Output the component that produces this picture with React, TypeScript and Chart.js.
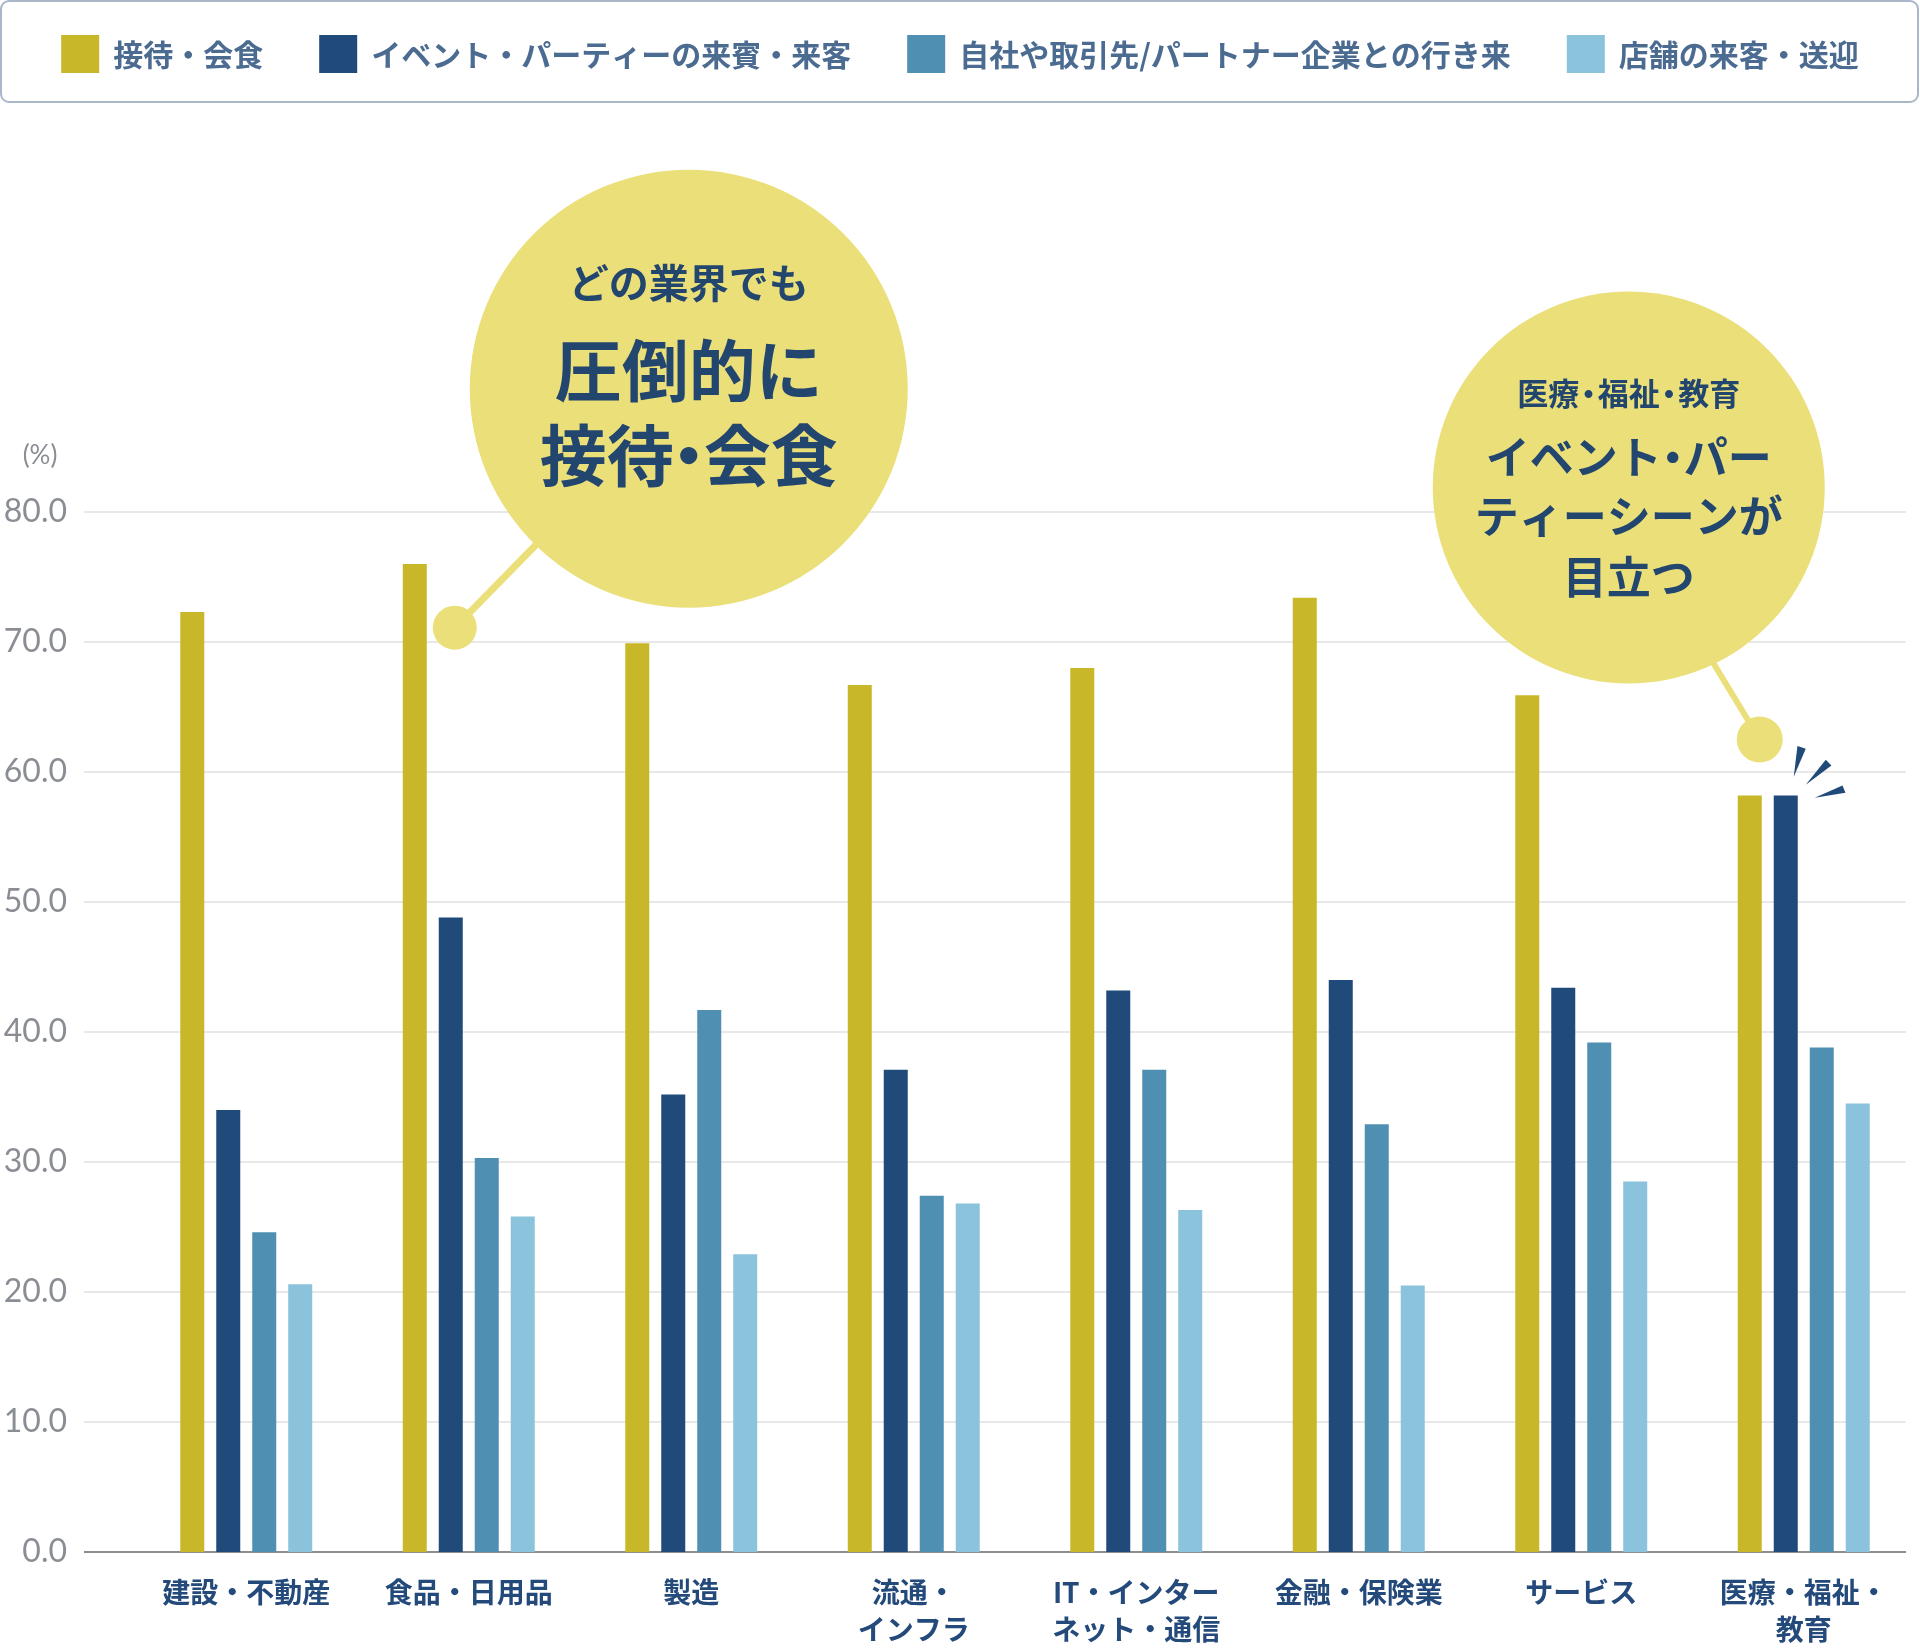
import React, { useEffect, useRef } from "react";
import { Chart, registerables } from "chart.js";

Chart.register(...registerables);

const categories: (string | string[])[] = [
  "建設・不動産",
  "食品・日用品",
  "製造",
  ["流通・", "インフラ"],
  ["IT・インター", "ネット・通信"],
  "金融・保険業",
  "サービス",
  ["医療・福祉・", "教育"],
];

const seriesLabels = [
  "接待・会食",
  "イベント・パーティーの来賓・来客",
  "自社や取引先/パートナー企業との行き来",
  "店舗の来客・送迎",
];

const entertainment = [72.3, 76.0, 69.9, 66.7, 68.0, 73.4, 65.9, 58.2];
const events = [34.0, 48.8, 35.2, 37.1, 43.2, 44.0, 43.4, 58.2];
const partners = [24.6, 30.3, 41.7, 27.4, 37.1, 32.9, 39.2, 38.8];
const stores = [20.6, 25.8, 22.9, 26.8, 26.3, 20.5, 28.5, 34.5];

const seriesColors = ["#c8b729", "#204a7a", "#4f90b2", "#8bc2dc"];

const yMin = 0;
const yMax = 80;
const yStep = 10;

const callout1Lines = ["どの業界でも", "圧倒的に", "接待・会食"];
const callout2Lines = ["医療・福祉・教育", "イベント・パー", "ティーシーンが", "目立つ"];

const JP = '"Noto Sans CJK JP", "Noto Sans", sans-serif';
const NAVY_TEXT = "#23466f";
const BUBBLE = "#ebdf7a";

// draws text centred at cx with a narrower advance for the middle dot
function drawTight(ctx: CanvasRenderingContext2D, text: string, cx: number, cy: number, size: number, dotRatio = 0.5) {
  const chars = Array.from(text);
  const widths = chars.map((ch) => (ch === "・" ? size * dotRatio : ctx.measureText(ch).width));
  const total = widths.reduce((a, b) => a + b, 0);
  let x = cx - total / 2;
  ctx.textAlign = "center";
  chars.forEach((ch, i) => {
    ctx.fillText(ch, x + widths[i] / 2, cy);
    x += widths[i];
  });
}

const gridPlugin = {
  id: "customGrid",
  beforeDatasetsDraw(chart: any) {
    const { ctx, chartArea } = chart;
    const y = chart.scales.y;
    const left = chartArea.left - 51;
    const right = chartArea.right - 9;
    ctx.save();
    y.ticks.forEach((t: any) => {
      const py = Math.round(y.getPixelForValue(t.value));
      ctx.beginPath();
      ctx.strokeStyle = t.value === 0 ? "#8d8d8d" : "#e8e8e8";
      ctx.lineWidth = 2;
      ctx.moveTo(left, py);
      ctx.lineTo(right, py);
      ctx.stroke();
    });
    ctx.fillStyle = "#8a8e94";
    ctx.font = '400 26px "Lato", sans-serif';
    ctx.textAlign = "center";
    ctx.textBaseline = "middle";
    ctx.fillText("(%)", 40, y.getPixelForValue(yMax) - 56);
    ctx.restore();
  },
};

const legendPlugin = {
  id: "customLegend",
  afterDraw(chart: any) {
    const { ctx } = chart;
    ctx.save();
    ctx.strokeStyle = "#a9b7c8";
    ctx.lineWidth = 2;
    ctx.beginPath();
    (ctx as any).roundRect(1, 1, chart.width - 3, 101, 8);
    ctx.stroke();
    ctx.font = `bold 30px ${JP}`;
    ctx.textBaseline = "middle";
    ctx.textAlign = "left";
    const ds = chart.data.datasets;
    const box = 38;
    const gap = 14;
    const spacing = 56;
    const widths = ds.map((d: any) => ctx.measureText(d.label).width);
    const total =
      widths.reduce((a: number, w: number) => a + box + gap + w, 0) + spacing * (ds.length - 1);
    let x = chart.width / 2 - total / 2;
    const cy = 54;
    ds.forEach((d: any, i: number) => {
      ctx.fillStyle = d.backgroundColor;
      ctx.fillRect(x, cy - box / 2, box, box);
      ctx.fillStyle = "#4b6b91";
      ctx.fillText(d.label, x + box + gap, cy + 1);
      x += box + gap + widths[i] + spacing;
    });
    ctx.restore();
  },
};

const calloutPlugin = {
  id: "callouts",
  afterDatasetsDraw(chart: any) {
    const { ctx } = chart;
    const xs = chart.scales.x;
    const ys = chart.scales.y;
    ctx.save();

    // Callout 1
    const d1x = xs.getPixelForValue(1) - 14;
    const d1y = ys.getPixelForValue(71.1);
    const c1x = d1x + 234;
    const c1y = d1y - 239;
    ctx.fillStyle = BUBBLE;
    ctx.strokeStyle = BUBBLE;
    ctx.lineWidth = 7;
    ctx.beginPath();
    ctx.moveTo(d1x, d1y);
    ctx.lineTo(c1x, c1y);
    ctx.stroke();
    ctx.beginPath();
    ctx.arc(d1x, d1y, 22, 0, Math.PI * 2);
    ctx.fill();
    ctx.beginPath();
    ctx.arc(c1x, c1y, 219, 0, Math.PI * 2);
    ctx.fill();

    ctx.fillStyle = NAVY_TEXT;
    ctx.textBaseline = "middle";
    ctx.font = `bold 40px ${JP}`;
    drawTight(ctx, callout1Lines[0], c1x, c1y - 106, 40);
    ctx.font = `bold 67px ${JP}`;
    drawTight(ctx, callout1Lines[1], c1x, c1y - 18, 67);
    drawTight(ctx, callout1Lines[2], c1x, c1y + 67, 67, 0.45);

    // Callout 2
    const d2x = xs.getPixelForValue(7) - 44;
    const d2y = ys.getPixelForValue(62.5);
    const c2x = d2x - 131;
    const c2y = d2y - 252;
    ctx.fillStyle = BUBBLE;
    ctx.strokeStyle = BUBBLE;
    ctx.lineWidth = 6;
    ctx.beginPath();
    ctx.moveTo(d2x, d2y);
    ctx.lineTo(d2x - 102, d2y - 168);
    ctx.stroke();
    ctx.beginPath();
    ctx.arc(d2x, d2y, 23, 0, Math.PI * 2);
    ctx.fill();
    ctx.beginPath();
    ctx.arc(c2x, c2y, 196, 0, Math.PI * 2);
    ctx.fill();

    ctx.fillStyle = NAVY_TEXT;
    ctx.font = `bold 31px ${JP}`;
    drawTight(ctx, callout2Lines[0], c2x, c2y - 94, 31, 0.6);
    ctx.font = `bold 44px ${JP}`;
    drawTight(ctx, callout2Lines[1], c2x, c2y - 30, 44);
    drawTight(ctx, callout2Lines[2], c2x, c2y + 29, 44);
    drawTight(ctx, callout2Lines[3], c2x, c2y + 90, 44);

    // burst marks next to the highlighted bar
    const bar = chart.getDatasetMeta(1).data[7];
    if (bar) {
      const bx = bar.x;
      const by = bar.y;
      const wedges = [
        [[11.7, -49.3], [20, -46.7], [8, -18.7]],
        [[40, -35.7], [45.7, -30], [20, -10.7]],
        [[56.7, -10], [59.7, -2.7], [29, 2.3]],
      ];
      ctx.fillStyle = "#204a7a";
      wedges.forEach((w) => {
        ctx.beginPath();
        ctx.moveTo(bx + w[0][0], by + w[0][1]);
        ctx.lineTo(bx + w[1][0], by + w[1][1]);
        ctx.lineTo(bx + w[2][0], by + w[2][1]);
        ctx.closePath();
        ctx.fill();
      });
    }
    ctx.restore();
  },
};

export default function App() {
  const ref = useRef<HTMLCanvasElement | null>(null);

  useEffect(() => {
    if (!ref.current) return;
    const seriesData = [entertainment, events, partners, stores];
    const chart = new Chart(ref.current, {
      type: "bar",
      data: {
        labels: categories,
        datasets: seriesData.map((d, i) => ({
          label: seriesLabels[i],
          data: d,
          backgroundColor: seriesColors[i],
          borderWidth: 0,
          categoryPercentage: 0.647,
          barPercentage: 0.667,
        })),
      },
      options: {
        responsive: false,
        animation: false,
        devicePixelRatio: 1,
        layout: { padding: { top: 512, left: 0, right: 5, bottom: 0 } },
        plugins: {
          legend: { display: false },
          tooltip: { enabled: false },
          title: { display: false },
        },
        scales: {
          x: {
            grid: { display: false, drawTicks: false },
            border: { display: false },
            ticks: {
              padding: 22,
              color: "#234a7a",
              maxRotation: 0,
              autoSkip: false,
              font: { family: JP, size: 28, weight: "bold", lineHeight: 1.32 },
            },
            afterFit: (scale: any) => {
              scale.height = 96;
            },
          },
          y: {
            min: yMin,
            max: yMax,
            grid: { display: false, drawTicks: false },
            border: { display: false },
            ticks: {
              stepSize: yStep,
              padding: 68,
              color: "#8a8e94",
              font: { family: '"Lato", sans-serif', size: 32, weight: "normal" },
              callback: (v: any) => Number(v).toFixed(1),
            },
            afterFit: (scale: any) => {
              scale.width = 135;
            },
          },
        },
      },
      plugins: [gridPlugin, legendPlugin, calloutPlugin],
    });
    return () => chart.destroy();
  }, []);

  return (
    <div style={{ position: "absolute", left: 0, top: 0, width: 1920, height: 1648, background: "#fff" }}>
      <canvas ref={ref} width={1920} height={1648} style={{ display: "block", width: 1920, height: 1648 }} />
    </div>
  );
}
